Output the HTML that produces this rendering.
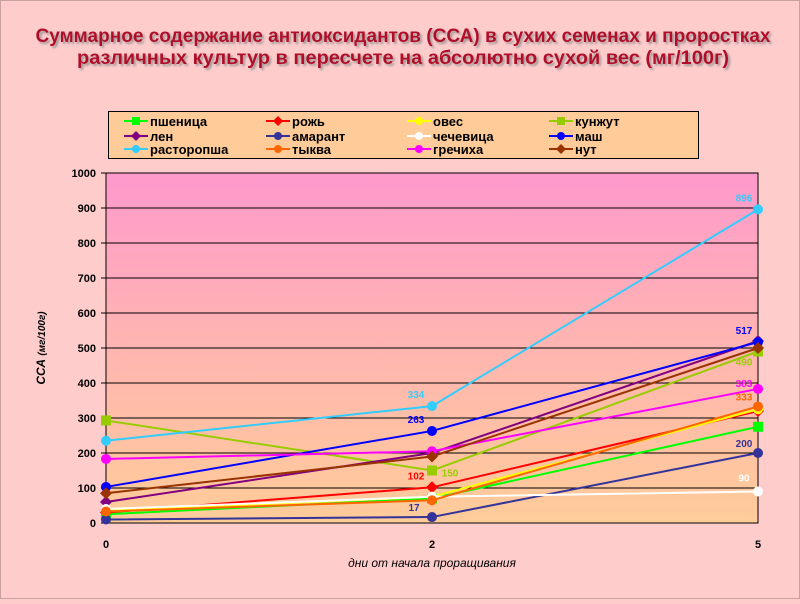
<!DOCTYPE html>
<html><head><meta charset="utf-8"><style>
html,body{margin:0;padding:0}
body{width:800px;height:599px;background:#ffcccc;font-family:"Liberation Sans",Arial,sans-serif;overflow:hidden}
</style></head><body>
<svg width="800" height="599" xmlns="http://www.w3.org/2000/svg">
<defs>
<linearGradient id="bg" x1="0" y1="0" x2="0" y2="1">
<stop offset="0" stop-color="#ff99cc"/><stop offset="0.45" stop-color="#ffb3b3"/><stop offset="1" stop-color="#ffcc99"/>
</linearGradient>
<filter id="sh"><feDropShadow dx="2" dy="2" stdDeviation="1" flood-color="#888" flood-opacity="0.8"/></filter>
</defs>
<rect x="0.5" y="0.5" width="799" height="598" fill="#ffcccc" stroke="#c9a0a0"/>
<g fill="#b0102a" font-weight="bold" font-size="19" text-anchor="middle" filter="url(#sh)">
<text x="403" y="42" textLength="735" lengthAdjust="spacingAndGlyphs">Суммарное содержание антиоксидантов (ССА) в сухих семенах и проростках</text>
<text x="403" y="64" textLength="652" lengthAdjust="spacingAndGlyphs">различных культур в пересчете на абсолютно сухой вес (мг/100г)</text>
</g>
<rect x="108.5" y="111.5" width="590" height="47" fill="#ffcc99" stroke="#000"/>
<g id="legend"></g>
<rect id="plotbg" x="106" y="173" width="652" height="350" fill="url(#bg)" stroke="#000"/>
<g id="grid"></g>
<g id="series"></g>
<g id="labels"></g>
<text x="45" y="348" transform="rotate(-90 45 348)" font-size="12" font-weight="bold" font-style="italic" text-anchor="middle">ССА <tspan font-size="10">(мг/100г)</tspan></text>
<text x="432" y="567" font-size="12" font-style="italic" text-anchor="middle">дни от начала проращивания</text>
</svg>
<script>
const categories = ['0','2','5'];
const yTicks = [0,100,200,300,400,500,600,700,800,900,1000];
const seriesNames = ['пшеница','рожь','овес','кунжут','лен','амарант','чечевица','маш','расторопша','тыква','гречиха','нут'];
const seriesColors = ['#00ff00','#ff0000','#ffff00','#99cc00','#800080','#333399','#ffffff','#0000ff','#33ccff','#ff6600','#ff00ff','#993300'];
const seriesMarkers = ['square','diamond','circle','square','diamond','circle','circle','circle','circle','circle','circle','diamond'];
const vPshenica = [25,70,275];
const vRozh = [30,102,320];
const vOves = [35,75,325];
const vKunzhut = [293,150,490];
const vLen = [60,200,520];
const vAmarant = [10,17,200];
const vChechevica = [40,75,90];
const vMash = [103,263,517];
const vRastoropsha = [235,334,896];
const vTykva = [33,65,333];
const vGrechiha = [183,205,383];
const vNut = [85,190,500];
const seriesValues = [vPshenica,vRozh,vOves,vKunzhut,vLen,vAmarant,vChechevica,vMash,vRastoropsha,vTykva,vGrechiha,vNut];
// printed data labels: [seriesIndex, categoryIndex, dx, dy]
const labelSpecs = [[8,1,-16,-8],[7,1,-16,-8],[1,1,-16,-8],[3,1,18,6],[5,1,-18,-6],[8,2,-14,-8],[7,2,-14,-8],[3,2,-14,14],[10,2,-14,-2],[9,2,-14,-6],[5,2,-14,-6],[6,2,-14,-10]];

const NS='http://www.w3.org/2000/svg';
const X0=106,X1=758,Y0=523,Y1=173;
const xS=i=>X0+(X1-X0)*i/(categories.length-1);
const yS=v=>Y0-(Y0-Y1)*v/1000;
function mk(tag,attrs,parent,text){const e=document.createElementNS(NS,tag);for(const k in attrs)e.setAttribute(k,attrs[k]);if(text!==undefined)e.textContent=text;parent.appendChild(e);return e;}
function marker(type,x,y,c,p,s){
  if(type==='square') return mk('rect',{x:x-s,y:y-s,width:2*s,height:2*s,fill:c},p);
  if(type==='diamond') return mk('polygon',{points:`${x},${y-s-1} ${x+s+1},${y} ${x},${y+s+1} ${x-s-1},${y}`,fill:c},p);
  return mk('circle',{cx:x,cy:y,r:s,fill:c},p);
}
const grid=document.getElementById('grid');
yTicks.forEach(t=>{
  const y=yS(t);
  const l=mk('line',{x1:X0-5,x2:X1,y1:y,y2:y,stroke:'#000','stroke-width':1},grid);
  
  
  const tx=mk('text',{x:X0-10,y:y+4,'font-size':11,'font-weight':'bold','text-anchor':'end'},grid,String(t));
  
  
});
categories.forEach((c,i)=>{
  const tx=mk('text',{x:xS(i),y:Y0+25,'font-size':11,'font-weight':'bold','text-anchor':'middle'},grid,c);
  
  
});
const sg=document.getElementById('series');
seriesValues.forEach((vals,si)=>{
  const g=mk('g',{},sg);
  
  
  mk('polyline',{points:vals.map((v,i)=>xS(i)+','+yS(v)).join(' '),fill:'none',stroke:seriesColors[si],'stroke-width':2},g);
  vals.forEach((v,i)=>{const m=marker(seriesMarkers[si],xS(i),yS(v),seriesColors[si],g,5);
    
    });
});
const lg=document.getElementById('labels');
labelSpecs.forEach(([si,ci,dx,dy])=>{
  const t=mk('text',{x:xS(ci)+dx,y:yS(seriesValues[si][ci])+dy,'font-size':10,'font-weight':'bold',fill:si===6?'#ffffff':seriesColors[si],'text-anchor':'middle'},lg,String(seriesValues[si][ci]));
  
  
});
const leg=document.getElementById('legend');
const colX=[150,292,433,575];
const rowY=[121,136,149];
seriesNames.forEach((n,i)=>{
  const cx=colX[i%4],cy=rowY[Math.floor(i/4)];
  const g=mk('g',{},leg);
  
  
  mk('line',{x1:cx-26,x2:cx-2,y1:cy,y2:cy,stroke:seriesColors[i],'stroke-width':2},g);
  marker(seriesMarkers[i],cx-14,cy,seriesColors[i],g,4);
  mk('text',{x:cx,y:cy+5,'font-size':13,'font-weight':'bold'},g,n);
});
</script>
</body></html>
